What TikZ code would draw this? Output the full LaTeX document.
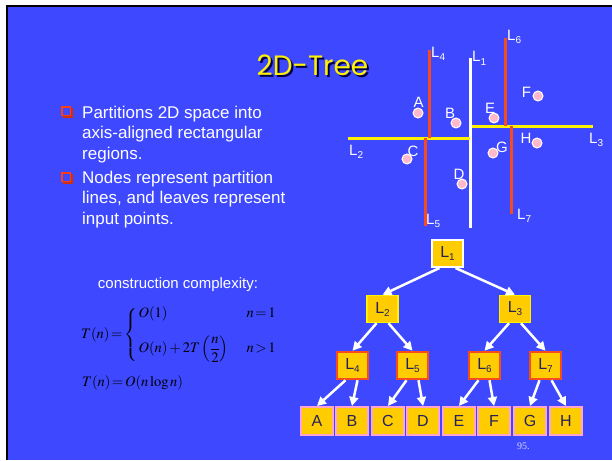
\documentclass[tikz,border=0pt]{standalone}
\usepackage{amsmath}
\usepackage{mathptmx}
\usepackage[no-math]{fontspec}
\setmainfont{Liberation Sans}
\newfontfamily\titlefont{Poppins}
\newfontfamily\numfont{Liberation Serif}
\usetikzlibrary{arrows.meta}
\definecolor{slideblue}{RGB}{61,72,255}
\definecolor{boxgold}{RGB}{255,204,0}
\definecolor{cutred}{RGB}{245,75,30}
\definecolor{dotpink}{RGB}{255,185,205}
\definecolor{leafpink}{RGB}{255,165,205}
\definecolor{labelnavy}{RGB}{35,35,90}
\definecolor{bulletred}{RGB}{255,60,20}
\newcommand{\lname}[1]{L\raisebox{-3pt}{\fontsize{10}{10}\selectfont #1}}

\begin{document}
\begin{tikzpicture}[x=1pt,y=-1pt,
  treebox/.style={draw,fill=boxgold,text=labelnavy,minimum width=31pt,minimum height=27pt,inner sep=0pt,font=\fontsize{16}{16}\selectfont},
  rootbox/.style={treebox,draw=white,line width=2pt},
  midbox/.style={treebox,draw=yellow,line width=1.5pt},
  lowbox/.style={treebox,draw=cutred,line width=2.5pt},
  leafbox/.style={treebox,draw=leafpink,line width=2pt,minimum width=32pt,minimum height=28pt},
  treearrow/.style={white,line width=2.5pt,-{Triangle[length=9pt,width=9pt]}},
  cutline/.style={line width=3pt},
  site/.style={circle,fill=dotpink,draw=white,line width=1pt,minimum size=10pt,inner sep=0pt},
  sitelabel/.style={text=white,font=\fontsize{15}{15}\selectfont,inner sep=0pt},
  bullettext/.style={text=white,align=left,anchor=north west,inner sep=0pt,font=\fontsize{17}{20.5}\selectfont}]
\useasboundingbox (0,0) rectangle (612,460);
% Folie
\fill[white] (0,0) rectangle (612,460);
\fill[black] (6,5) rectangle (612,460);
\fill[slideblue] (8,7) rectangle (612,460);
% Titel mit Schatten
\node[font=\titlefont\fontsize{28}{28}\selectfont,text=yellow,inner sep=0pt] (title) at (312.5,66)
  {\rlap{\kern2pt\raisebox{-2pt}{\color{black!75!blue}2D-Tree}}2D-Tree};
% Aufzaehlung
\foreach \y in {106,172}{
  \draw[bulletred,line width=1.6pt] (62,\y+1) rectangle (70.5,\y+9.5);
  \draw[bulletred!80!black,line width=2pt] (62.5,\y+10.5) -- (71.5,\y+10.5) -- (71.5,\y+1.5);
}
\node[bullettext] (item1) at (82,105.5) {Partitions 2D space into\\axis-aligned rectangular\\regions.};
\node[bullettext] (item2) at (82,170.5) {Nodes represent partition\\lines, and leaves represent\\input points.};
% Komplexitaet
\node[text=white,font=\fontsize{15}{15}\selectfont,anchor=base,inner sep=0pt] (cc) at (178,288.5) {construction complexity:};
\node[anchor=west,inner sep=0pt,font=\fontsize{14.5}{14.5}\selectfont] (rec) at (81,335)
  {$\thickmuskip=2mu T(n)=\left\{\begin{array}{@{\,}l@{\hspace{18pt}}c@{}}
     O(1) & n=1\\[14pt]
     O(n)+2T\left(\dfrac{n}{2}\right) & n>1
   \end{array}\right.$};
\node[anchor=base west,inner sep=0pt,font=\fontsize{14.5}{14.5}\selectfont] (sol) at (82,386) {$\thickmuskip=2mu T(n)=O(n\log n)$};
% Zerlegung
\draw[cutline,white] (470,58) -- (470,228);
\node[sitelabel,anchor=base west] at (472,62) {\lname{1}};
\draw[cutline,yellow] (348,138) -- (470,138);
\node[sitelabel,anchor=base west] at (349,155) {\lname{2}};
\draw[cutline,yellow] (472,126) -- (593,126);
\node[sitelabel,anchor=base west] at (589,143) {\lname{3}};
\draw[cutline,cutred] (429,50) -- (429,138);
\node[sitelabel,anchor=base west] at (431,57) {\lname{4}};
\draw[cutline,cutred] (425,138) -- (425,226);
\node[sitelabel,anchor=base west] at (426,224) {\lname{5}};
\draw[cutline,cutred] (505,38) -- (505,126);
\node[sitelabel,anchor=base west] at (507,41) {\lname{6}};
\draw[cutline,cutred] (511,126) -- (511,214);
\node[sitelabel,anchor=base west] at (517,219) {\lname{7}};
% Punkte
\node[site] (sa) at (418,113) {};
\node[site] (sb) at (456,123) {};
\node[site] (sc) at (407,159) {};
\node[site] (sd) at (462,184) {};
\node[site] (se) at (494,118) {};
\node[site] (sf) at (538,96) {};
\node[site] (sg) at (493,153) {};
\node[site] (sh) at (537,143) {};
\node[sitelabel,anchor=base] at (418.5,107) {A};
\node[sitelabel,anchor=base] at (450,118) {B};
\node[sitelabel,anchor=base] at (413,156) {C};
\node[sitelabel,anchor=base] at (459,179) {D};
\node[sitelabel,anchor=base] at (490,113) {E};
\node[sitelabel,anchor=base] at (526.5,97) {F};
\node[sitelabel,anchor=base] at (502,152) {G};
\node[sitelabel,anchor=base] at (526,143.5) {H};
% Baum
\node[rootbox] (l1) at (447.5,253.5) {\lname{1}};
\node[midbox] (l2) at (382.5,309) {\lname{2}};
\node[midbox] (l3) at (515,309) {\lname{3}};
\node[lowbox] (l4) at (352.5,365.5) {\lname{4}};
\node[lowbox] (l5) at (412.5,365.5) {\lname{5}};
\node[lowbox] (l6) at (484.5,365.5) {\lname{6}};
\node[lowbox] (l7) at (545.5,365.5) {\lname{7}};
\node[leafbox] (pa) at (317,421) {A};
\node[leafbox] (pb) at (352,421) {B};
\node[leafbox] (pc) at (388,421) {C};
\node[leafbox] (pd) at (423,421) {D};
\node[leafbox] (pe) at (459,421) {E};
\node[leafbox] (pf) at (494,421) {F};
\node[leafbox] (pg) at (530,421) {G};
\node[leafbox] (ph) at (566,421) {H};
\draw[treearrow] ([xshift=-8pt]l1.south) -- (l2.north);
\draw[treearrow] ([xshift=8pt]l1.south) -- (l3.north);
\draw[treearrow] ([xshift=-6pt]l2.south) -- (l4.north);
\draw[treearrow] ([xshift=6pt]l2.south) -- (l5.north);
\draw[treearrow] ([xshift=-6pt]l3.south) -- (l6.north);
\draw[treearrow] ([xshift=6pt]l3.south) -- (l7.north);
\draw[treearrow] ([xshift=-7pt]l4.south) -- (pa.north);
\draw[treearrow] ([xshift=5pt]l4.south) -- (pb.north);
\draw[treearrow] ([xshift=-6pt]l5.south) -- (pc.north);
\draw[treearrow] ([xshift=6pt]l5.south) -- (pd.north);
\draw[treearrow] ([xshift=-6pt]l6.south) -- (pe.north);
\draw[treearrow] ([xshift=5pt]l6.south) -- (pf.north);
\draw[treearrow] ([xshift=-6pt]l7.south) -- (pg.north);
\draw[treearrow] ([xshift=6pt]l7.south) -- (ph.north);
% Seitenzahl
\node[text=white!85!blue,font=\numfont\fontsize{10}{10}\selectfont,anchor=base west,inner sep=0pt] (pagenum) at (517,449) {95.};
\end{tikzpicture}
\end{document}
